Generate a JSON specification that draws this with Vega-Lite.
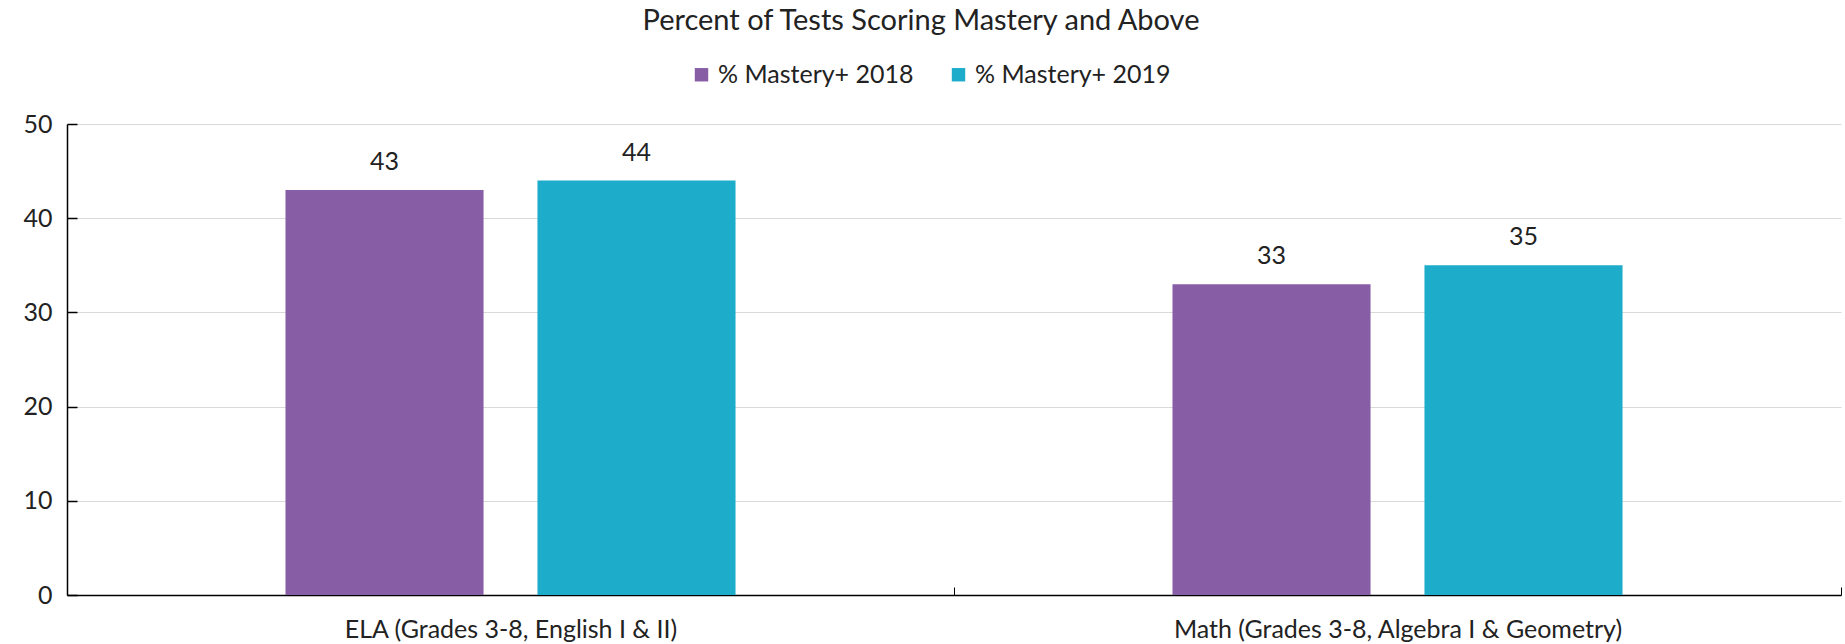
{
  "$schema": "https://vega.github.io/schema/vega-lite/v6.json",
  "width": 1774,
  "height": 471,
  "autosize": {"type": "none"},
  "padding": {"left": 67, "top": 124, "right": 4, "bottom": 49},
  "background": "white",
  "config": {"view": {"stroke": null}, "font": "Lato"},
  "title": {
    "text": "Percent of Tests Scoring Mastery and Above",
    "fontSize": 29,
    "fontWeight": "normal",
    "font": "Lato",
    "color": "#222222",
    "anchor": "middle",
    "dx": -33,
    "offset": 26
  },
  "data": {
    "values": [
      {"subject": "ELA (Grades 3-8, English I & II)", "series": "% Mastery+ 2018", "value": 43},
      {"subject": "ELA (Grades 3-8, English I & II)", "series": "% Mastery+ 2019", "value": 44},
      {"subject": "Math (Grades 3-8, Algebra I & Geometry)", "series": "% Mastery+ 2018", "value": 33},
      {"subject": "Math (Grades 3-8, Algebra I & Geometry)", "series": "% Mastery+ 2019", "value": 35}
    ]
  },
  "encoding": {
    "x": {
      "field": "subject",
      "type": "nominal",
      "sort": ["ELA (Grades 3-8, English I & II)", "Math (Grades 3-8, Algebra I & Geometry)"],
      "scale": {"paddingInner": 0, "paddingOuter": 0},
      "axis": {
        "title": null,
        "labelAngle": 0,
        "labelFontSize": 25,
        "labelLimit": 0,
        "labelColor": "#222222",
        "labelPadding": 30,
        "domainColor": "#000000",
        "domainWidth": 1.5,
        "tickBand": "extent",
        "tickColor": "#000000",
        "tickSize": -8
      }
    },
    "xOffset": {
      "field": "series",
      "type": "nominal",
      "scale": {"paddingInner": 0.214, "paddingOuter": 0.867}
    },
    "y": {
      "field": "value",
      "type": "quantitative",
      "scale": {"domain": [0, 50], "nice": false},
      "axis": {
        "title": null,
        "values": [0, 10, 20, 30, 40, 50],
        "labelFontSize": 25,
        "labelColor": "#222222",
        "labelPadding": 25,
        "gridColor": "#d9d9d9",
        "gridWidth": 1.2,
        "domainColor": "#000000",
        "domainWidth": 1.5,
        "tickColor": "#000000",
        "tickSize": -10,
        "tickWidth": 1.5
      }
    }
  },
  "layer": [
    {
      "mark": {"type": "bar"},
      "encoding": {
        "color": {
          "field": "series",
          "type": "nominal",
          "scale": {"range": ["#875da5", "#1dacca"]},
          "legend": {
            "title": null,
            "orient": "none",
            "direction": "horizontal",
            "legendX": 622,
            "legendY": -62,
            "symbolType": "square",
            "symbolSize": 180,
            "symbolStrokeWidth": 0,
            "labelFontSize": 25,
            "labelLimit": 0,
            "labelColor": "#222222",
            "labelOffset": 4,
            "columnPadding": 32
          }
        }
      }
    },
    {
      "mark": {"type": "text", "dy": -28, "fontSize": 25, "color": "#222222", "baseline": "middle"},
      "encoding": {
        "text": {"field": "value", "type": "quantitative"}
      }
    }
  ]
}
